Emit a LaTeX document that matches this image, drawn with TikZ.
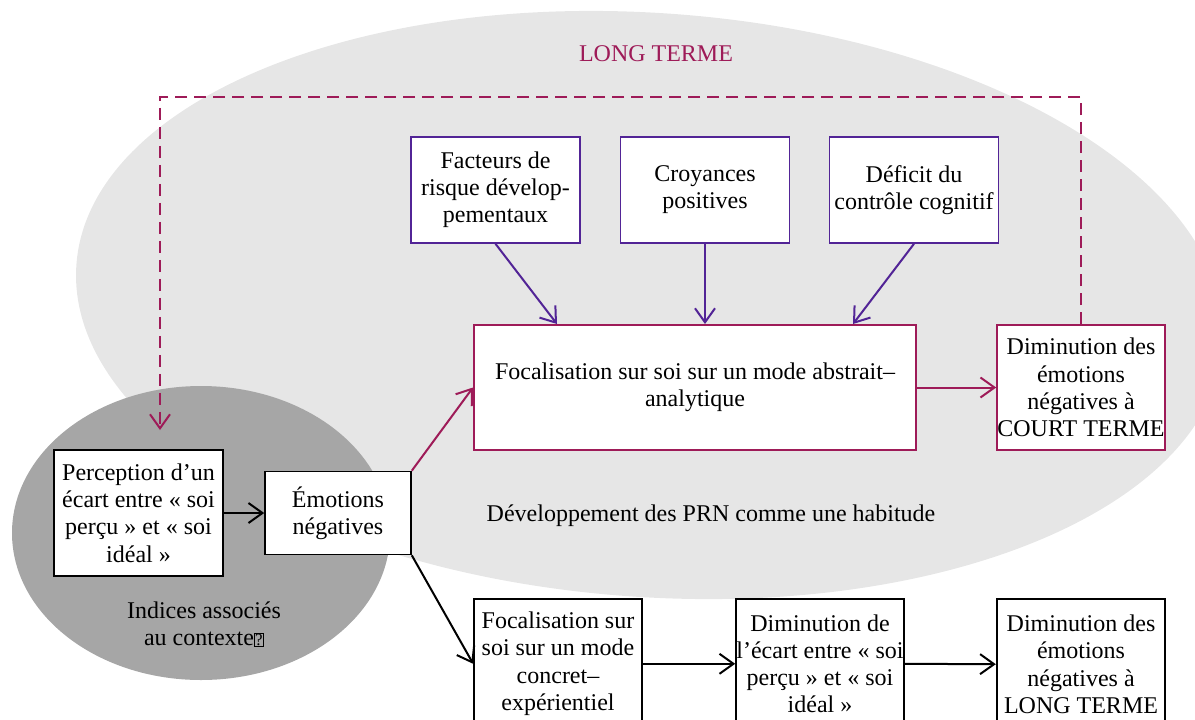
\documentclass[tikz,border=0pt]{standalone}
\usepackage{fontspec}
\setmainfont{Liberation Serif}
\usetikzlibrary{arrows.meta,calc}

\definecolor{bordeaux}{RGB}{158,27,88}
\definecolor{pourpre}{RGB}{82,36,150}
\definecolor{grisclair}{RGB}{230,230,230}
\definecolor{grisfonce}{RGB}{166,166,166}

\newcommand{\glyphevide}{{\setlength{\fboxsep}{0.2pt}\setlength{\fboxrule}{0.4pt}\fbox{\fontsize{8.5}{8.5}\selectfont ?}}}

\begin{document}
\begin{tikzpicture}[
  x=0.5pt, y=-0.5pt,
  >={Straight Barb[length=7pt,width=10pt]},
  block/.style={rectangle, draw, fill=white, line width=0.8pt, align=center, inner sep=1pt},
  facteur/.style={block, draw=pourpre, minimum width=84.5pt, minimum height=53pt},
  etape/.style={block, anchor=north, minimum width=84pt, minimum height=65pt, inner sep=0pt},
  fleche/.style={->, line width=1pt},
  font=\fontsize{12}{13.6}\selectfont
]
\useasboundingbox (0,0) rectangle (1195,719);
\clip (0,0) rectangle (1195,719);

% Backgrounds
\fill[grisclair, rotate around={-4:(650,305)}] (650,305) ellipse (575 and 292);
\fill[grisfonce] (201,533) ellipse (189 and 147);

\node[text=bordeaux] (titre) at (656,54) {LONG TERME};

% Vulnerability factors
\node[facteur] (facteurs) at (495.5,190) {Facteurs de\\risque dévelop-\\pementaux};
\node[facteur] (croyances) at (705,190) {Croyances\\positives};
\node[facteur] (deficit) at (914,190) {Déficit du\\contrôle cognitif};

% Abstract mode
\node[block, draw=bordeaux, line width=1pt, minimum width=221pt, minimum height=62.5pt] (abstrait) at (695,387.5) {Focalisation sur soi sur un mode abstrait--\\analytique};
\node[block, draw=bordeaux, inner sep=0pt, minimum width=84pt, minimum height=62.5pt] (court) at (1081,387.5) {Diminution des\\émotions\\négatives à\\COURT TERME};

% Starting point
\node[block, line width=1.3pt, minimum width=84.5pt, minimum height=63pt] (perception) at (138.5,513) {Perception d’un\\écart entre «~soi\\perçu~» et «~soi\\idéal~»};
\node[block, minimum width=73pt, minimum height=41.5pt] (emotions) at (338,513) {Émotions\\négatives};

% Concrete mode
\node[etape] (concret) at (558,598) {Focalisation sur\\soi sur un mode\\concret--\\expérientiel};
\node[etape] (ecart) at (820,598) {Diminution de\\l’écart entre «~soi\\perçu~» et «~soi\\idéal~»};
\node[etape, line width=1.2pt] (longterme) at (1081,598) {Diminution des\\émotions\\négatives à\\LONG TERME};

% Labels
\node (habitude) at (711,516) {Développement des PRN comme une habitude};
\node[align=center] (indices) at (204,624) {Indices associés\\au contexte\glyphevide};

% Arrows
\draw[fleche, pourpre] (facteurs.south) -- ($(abstrait.north)+(-138,0)$);
\draw[fleche, pourpre] (croyances.south) -- (croyances.south |- abstrait.north);
\draw[fleche, pourpre] (deficit.south) -- ($(abstrait.north)+(158,0)$);

\draw[fleche, bordeaux] (emotions.north east) -- (abstrait.west);
\draw[fleche, bordeaux] (abstrait.east) -- (court.west);

\coordinate (coin) at (160,97);
\coordinate (retour) at (160,430);
\draw[fleche, bordeaux, dash pattern=on 6pt off 3.5pt] (court.north) |- (coin) -- (retour);

\draw[fleche] (perception.east) -- (emotions.west);
\draw[fleche] (emotions.south east) -- (concret.west);
\draw[fleche] (concret.east) -- (ecart.west);
\draw[fleche] (ecart.east) -- (longterme.west);

\end{tikzpicture}
\end{document}
